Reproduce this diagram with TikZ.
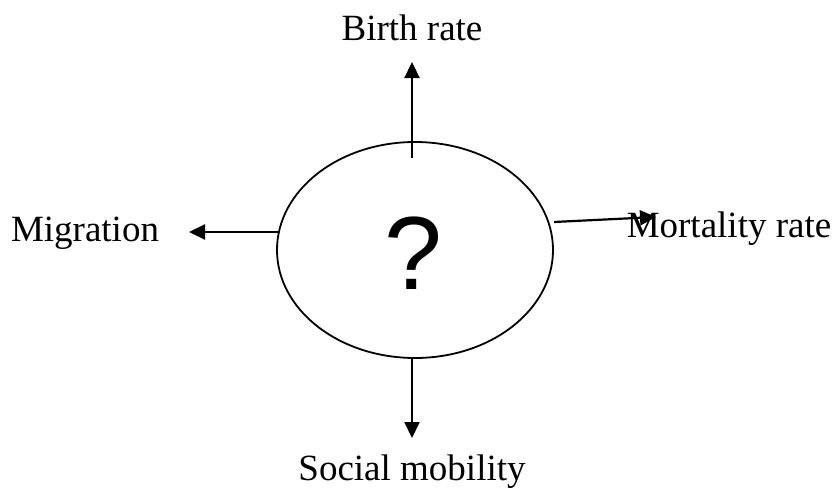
\documentclass[tikz,border=0pt]{standalone}
\usepackage{fontspec}
\setmainfont{Liberation Serif}
\newfontfamily\qfont{Liberation Sans}
\usetikzlibrary{shapes.geometric,arrows.meta}
\begin{document}
\begin{tikzpicture}[x=1pt,y=-1pt,
  lbl/.style={font=\fontsize{37}{40}\selectfont, inner sep=0pt, anchor=base},
  conn/.style={line width=2.2pt, -{Triangle[length=16pt,width=15pt]}}]
\useasboundingbox (0,0) rectangle (836,490);
\node[ellipse, draw, line width=1.8pt, minimum width=276pt, minimum height=216pt, inner sep=0pt] (e) at (415,250) {};
\node[inner sep=0pt, anchor=base, font=\qfont\fontsize{104}{104}\selectfont] (q) at (413,289) {?};
\node[lbl] (birth) at (412,40) {Birth rate};
\node[lbl] (mig) at (85,241) {Migration};
\node[lbl] (mort) at (729,237) {Mortality rate};
\node[lbl] (soc) at (412,480) {Social mobility};
\coordinate (upstart) at (412,158);
\coordinate (uptip) at (412,62);
\coordinate (lstart) at (278,232);
\coordinate (ltip) at (189,232);
\coordinate (rstart) at (554,222);
\coordinate (rtip) at (656,217);
\coordinate (dstart) at (412,358);
\coordinate (dtip) at (412,438);
\draw[conn] (upstart) -- (uptip);
\draw[conn] (lstart) -- (ltip);
\draw[conn] (rstart) -- (rtip);
\draw[conn] (dstart) -- (dtip);
\end{tikzpicture}
\end{document}
